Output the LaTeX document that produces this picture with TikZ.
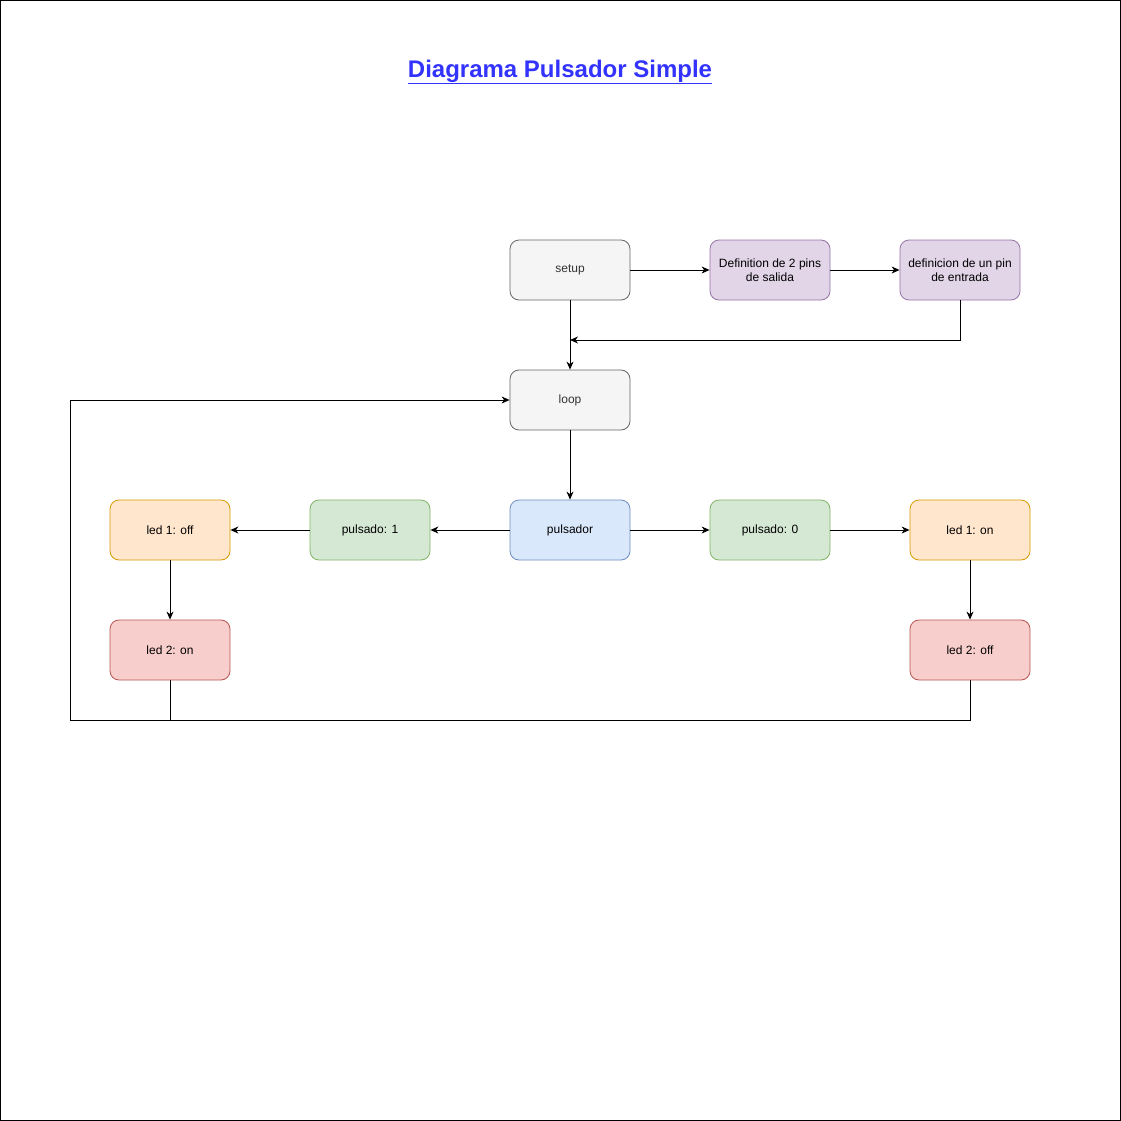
\documentclass[tikz,border=0pt]{standalone}
\usepackage{fontspec}
\setmainfont{Liberation Sans}
\usetikzlibrary{arrows.meta}

\definecolor{grayfill}{HTML}{F5F5F5}
\definecolor{graydraw}{HTML}{666666}
\definecolor{purplefill}{HTML}{E1D5E7}
\definecolor{purpledraw}{HTML}{9673A6}
\definecolor{bluefill}{HTML}{DAE8FC}
\definecolor{bluedraw}{HTML}{6C8EBF}
\definecolor{greenfill}{HTML}{D5E8D4}
\definecolor{greendraw}{HTML}{82B366}
\definecolor{orangefill}{HTML}{FFE6CC}
\definecolor{orangedraw}{HTML}{D79B00}
\definecolor{redfill}{HTML}{F8CECC}
\definecolor{reddraw}{HTML}{B85450}
\definecolor{titleblue}{HTML}{3333FF}

\tikzset{
  box/.style={rectangle, rounded corners=9pt, minimum width=120pt, minimum height=60pt,
              line width=0.8pt, align=center, font=\fontsize{12}{14.5}\selectfont, inner sep=2pt},
  graybox/.style={box, fill=grayfill, draw=graydraw, text=black!80},
  purplebox/.style={box, fill=purplefill, draw=purpledraw},
  bluebox/.style={box, fill=bluefill, draw=bluedraw},
  greenbox/.style={box, fill=greenfill, draw=greendraw},
  orangebox/.style={box, fill=orangefill, draw=orangedraw},
  redbox/.style={box, fill=redfill, draw=reddraw},
  link/.style={line width=1pt, -{Stealth[length=8pt,width=7pt,inset=2.5pt]}}
}

\begin{document}
\begin{tikzpicture}[x=1pt,y=-1pt]
    \useasboundingbox (0,0) rectangle (1121,1121);
    \draw[line width=1pt] (0.5,0.5) rectangle (1120.5,1120.5);

    \node[text=titleblue, font=\fontsize{24}{28}\selectfont\bfseries] (title) at (560,72) {\underline{Diagrama Pulsador Simple}};

    \node[graybox]   (setup)   at (570,270) {setup};
    \node[purplebox] (salida)  at (770,270) {Definition de 2 pins\\de salida};
    \node[purplebox] (entrada) at (960,270) {definicion de un pin\\de entrada};
    \node[graybox]   (loop)    at (570,400) {loop};

    \node[bluebox]   (pulsador) at (570,530) {pulsador};
    \node[greenbox]  (puls1)    at (370,530) {pulsado: 1};
    \node[greenbox]  (puls0)    at (770,530) {pulsado: 0};
    \node[orangebox] (ledoneoff) at (170,530) {led 1: off};
    \node[orangebox] (ledoneon)  at (970,530) {led 1: on};
    \node[redbox]    (ledtwoon)  at (170,650) {led 2: on};
    \node[redbox]    (ledtwooff) at (970,650) {led 2: off};

    \coordinate (join) at (570,340);
    \coordinate (back) at (70,720);

    \draw[link] (setup) -- (salida);
    \draw[link] (salida) -- (entrada);
    \draw[link] (entrada.south) |- (join);
    \draw[link] (setup) -- (loop);
    \draw[link] (loop) -- (pulsador);
    \draw[link] (pulsador) -- (puls1);
    \draw[link] (puls1) -- (ledoneoff);
    \draw[link] (pulsador) -- (puls0);
    \draw[link] (puls0) -- (ledoneon);
    \draw[link] (ledoneoff) -- (ledtwoon);
    \draw[link] (ledoneon) -- (ledtwooff);
    % return to loop
    \draw[line width=1pt] (ledtwoon.south) |- (back);
    \draw[link] (ledtwooff.south) |- (back) |- (loop.west);
\end{tikzpicture}
\end{document}
